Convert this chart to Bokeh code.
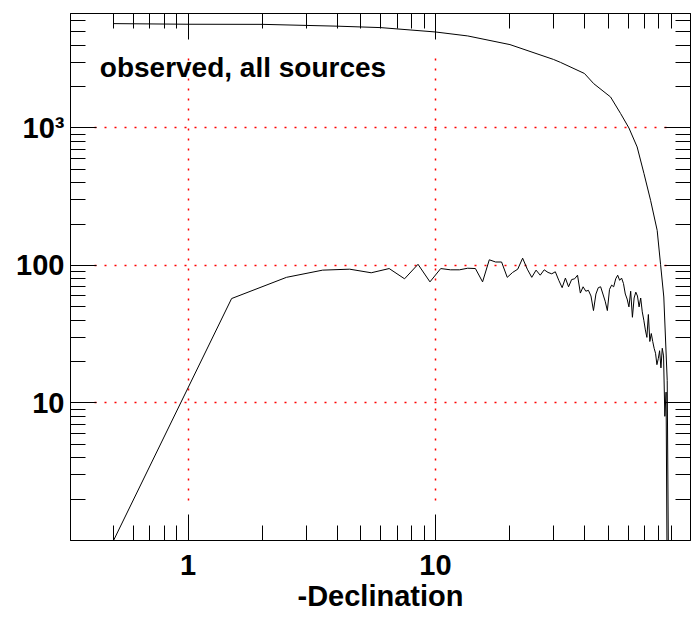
from bokeh.plotting import figure
from bokeh.models import LogAxis, FixedTicker, Label, ColumnDataSource
from bokeh.embed import file_html
from bokeh.resources import INLINE

# ---- data ----
# per-bin counts (lower curve), bins of 1 degree in -Declination
bin_dec = [0.5, 1.5, 2.5, 3.5, 4.5, 5.5, 6.5, 7.5, 8.5, 9.5,
           10.5, 11.5, 12.5, 13.5, 14.5, 15.5, 16.5, 17.5, 18.5, 19.5,
           20.5, 21.5, 22.5, 23.5, 24.5, 25.5, 26.5, 27.5, 28.5, 29.5,
           30.5, 31.5, 32.5, 33.5, 34.5, 35.5, 36.5, 37.5, 38.5, 39.5,
           40.5, 41.5, 42.5, 43.5, 44.5, 45.5, 46.5, 47.5, 48.5, 49.5,
           50.5, 51.5, 52.5, 53.5, 54.5, 55.5, 56.5, 57.5, 58.5, 59.5,
           60.5, 61.5, 62.5, 63.5, 64.5, 65.5, 66.5, 67.5, 68.5, 69.5,
           70.5, 71.5, 72.5, 73.5, 74.5, 75.5, 76.5, 77.5, 78.5, 79.5,
           80.5, 81.5, 82.5, 83.5, 84.5, 85.5, 86.5]
bin_counts = [1, 57.5, 82, 92.5, 94, 88.5, 95, 80, 102, 76,
              95, 93, 93, 95.5, 95, 76, 110, 106, 106, 82,
              89, 94, 113, 94, 82, 92.5, 85, 93, 89, 87,
              90, 78, 69, 81, 70, 79, 80, 85, 63, 70,
              65, 66, 60, 47, 62, 69, 70, 62, 55, 47,
              67, 72, 70, 80, 85, 78, 81, 74, 62, 57,
              50, 65, 42, 58, 64, 60, 50, 58, 46, 40,
              34, 30, 44, 28, 32, 28, 25, 23, 19, 21,
              24, 18, 25, 22, 8, 12, 0.3]

# cumulative curve (upper curve)
cum_dec = [0.5, 1, 2, 4, 6, 10, 13.5, 20, 30, 32, 40, 43.6, 51, 56,
           60.5, 65.3, 69.6, 74, 78.7, 81.2, 83.7, 86.4, 87.5]
cum_counts = [5740, 5680, 5670, 5500, 5370, 4990, 4670, 4040, 3150, 3000,
              2490, 2100, 1680, 1273, 1000, 728, 466, 298, 180, 102, 59,
              14.6, 0.5]

x_major = [1, 10]
x_minor = [0.5, 0.6, 0.7, 0.8, 0.9, 2, 3, 4, 5, 6, 7, 8, 9,
           20, 30, 40, 50, 60, 70, 80, 90]
y_major = [10, 100, 1000]
y_minor = [2, 3, 4, 5, 6, 7, 8, 9, 20, 30, 40, 50, 60, 70, 80, 90,
           200, 300, 400, 500, 600, 700, 800, 900, 2000, 3000, 4000, 5000, 6000]
y_labels = {10: "10", 100: "100", 1000: "10\u00b3"}
x_labels = {1: "1", 10: "10"}

FONT = "Liberation Sans"

p = figure(width=691, height=624, x_axis_type="log", y_axis_type="log",
           x_range=(0.335, 107.3), y_range=(1.0, 6800),
           output_backend="svg", toolbar_location=None,
           min_border_left=70, min_border_right=1,
           min_border_top=13, min_border_bottom=84)
p.background_fill_color = "white"
p.border_fill_color = "white"
p.outline_line_color = "black"
p.outline_line_width = 1


def style_axis(ax, ticker, labels=None):
    ax.ticker = ticker
    ax.axis_line_color = "black"
    ax.axis_line_width = 1
    ax.major_tick_line_color = "black"
    ax.minor_tick_line_color = "black"
    ax.major_tick_in = 26
    ax.major_tick_out = 0
    ax.minor_tick_in = 15
    ax.minor_tick_out = 0
    if labels is None:
        ax.major_label_text_font_size = "1px"
        ax.major_label_text_alpha = 0
        ax.major_label_standoff = 0
    else:
        ax.major_label_overrides = labels
        ax.major_label_text_font = FONT
        ax.major_label_text_font_style = "bold"
        ax.major_label_text_font_size = "29px"
        ax.major_label_text_color = "black"


style_axis(p.xaxis[0], FixedTicker(ticks=x_major, minor_ticks=x_minor), x_labels)
p.xaxis[0].major_label_standoff = 14
p.xaxis[0].axis_label = "-Declination"
p.xaxis[0].axis_label_text_font = FONT
p.xaxis[0].axis_label_text_font_style = "bold"
p.xaxis[0].axis_label_text_font_size = "29px"
p.xaxis[0].axis_label_standoff = 2
p.xaxis[0].axis_label_text_color = "black"

style_axis(p.yaxis[0], FixedTicker(ticks=y_major, minor_ticks=y_minor), y_labels)
p.yaxis[0].major_label_standoff = 6

top = LogAxis()
style_axis(top, FixedTicker(ticks=x_major, minor_ticks=x_minor))
p.add_layout(top, "above")
right = LogAxis()
style_axis(right, FixedTicker(ticks=y_major, minor_ticks=y_minor))
p.add_layout(right, "right")

# dotted red grid
p.xgrid.ticker = FixedTicker(ticks=x_major)
p.ygrid.ticker = FixedTicker(ticks=y_major)
for g in (p.xgrid, p.ygrid):
    g.grid_line_color = "red"
    g.grid_line_dash = "2 8"
    g.grid_line_width = 1.5
try:
    p.xgrid.cross_bounds = (1.95, 3400)
    p.ygrid.cross_bounds = (0.42, 89)
except AttributeError:
    pass

src_bins = ColumnDataSource(dict(x=bin_dec, y=bin_counts))
src_cum = ColumnDataSource(dict(x=cum_dec, y=cum_counts))
p.line("x", "y", source=src_cum, line_color="black", line_width=1)
p.line("x", "y", source=src_bins, line_color="black", line_width=1)

p.add_layout(Label(x=0.44, y=2753, text="observed, all sources",
                   text_font=FONT, text_font_style="bold",
                   text_font_size="28px", text_color="black",
                   text_baseline="alphabetic"))

open("out.html", "w").write(file_html(p, INLINE))
